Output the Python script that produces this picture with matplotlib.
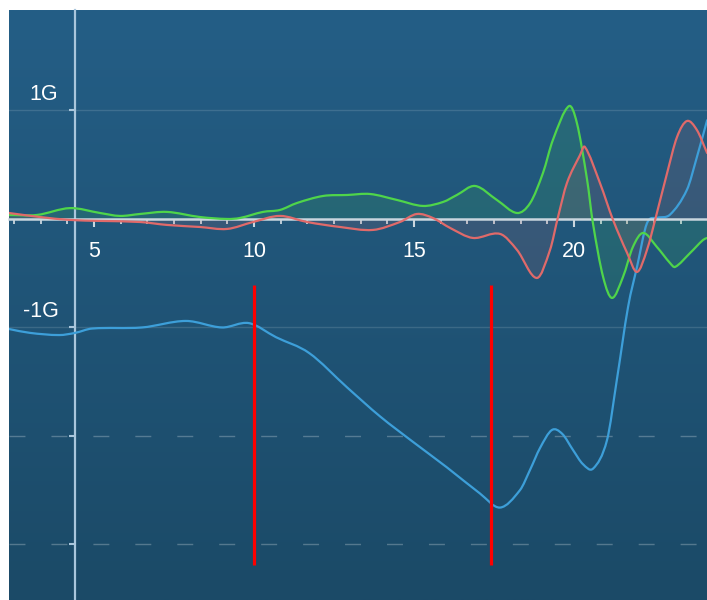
import numpy as np
import matplotlib
matplotlib.use("Agg")
import matplotlib.pyplot as plt
from matplotlib.colors import LinearSegmentedColormap
from matplotlib.path import Path
from matplotlib.patches import PathPatch

plt.rcParams["font.family"] = ["Liberation Sans", "DejaVu Sans"]

# ---- data (x in s, y in G) ----
green_x = [2.34, 3.22, 4.25, 5.19, 5.81, 6.44, 7.28, 8.31, 9.16, 9.56, 10.28, 10.81,
           11.34, 12.16, 12.91, 13.63, 14.47, 15.28, 15.91, 16.34, 16.91, 17.59,
           18.22, 18.63, 19.03, 19.34, 19.84, 20.09, 20.41, 20.59, 20.91, 21.19,
           21.53, 21.84, 22.16, 22.59, 23.0, 23.16, 23.63, 24.03, 24.16]
green_y = [0.037, 0.037, 0.10, 0.055, 0.028, 0.046, 0.065, 0.018, 0.0, 0.009, 0.065,
           0.083, 0.147, 0.212, 0.221, 0.23, 0.175, 0.12, 0.157, 0.221, 0.304, 0.175,
           0.055, 0.147, 0.424, 0.728, 1.04, 0.885, 0.36, -0.037, -0.535, -0.728,
           -0.535, -0.258, -0.129, -0.258, -0.406, -0.442, -0.313, -0.194, -0.175]

red_x = [2.34, 3.31, 4.25, 5.19, 6.44, 7.28, 8.31, 9.16, 9.97, 10.81, 11.66, 12.69,
         13.72, 14.56, 15.09, 15.59, 16.13, 16.84, 17.69, 18.22, 18.84, 19.25, 19.5,
         19.78, 20.19, 20.34, 20.81, 21.22, 21.66, 21.97, 22.28, 22.59, 22.91,
         23.22, 23.53, 23.84, 24.16]
red_y = [0.055, 0.018, -0.009, -0.018, -0.028, -0.055, -0.074, -0.092, -0.028, 0.028,
         -0.028, -0.074, -0.101, -0.028, 0.046, 0.009, -0.083, -0.175, -0.138, -0.286,
         -0.544, -0.286, 0.018, 0.332, 0.59, 0.664, 0.332, -0.009, -0.313, -0.488,
         -0.286, 0.055, 0.424, 0.756, 0.903, 0.82, 0.608]

blue_x = [2.34, 3.0, 3.91, 4.41, 4.94, 6.5, 7.875, 9.0, 9.84, 10.69, 11.72, 12.9,
          13.94, 14.97, 16.03, 17.06, 17.69, 18.31, 18.63, 18.94, 19.31, 19.63, 19.97,
          20.28, 20.6, 21.03, 21.34, 21.69, 21.97, 22.28, 22.6, 23.0, 23.53, 23.84,
          24.16]
blue_y = [-1.014, -1.05, -1.07, -1.05, -1.01, -1.0, -0.94, -1.0, -0.96, -1.09, -1.235,
          -1.55, -1.82, -2.055, -2.29, -2.53, -2.66, -2.5, -2.31, -2.11, -1.945, -1.98,
          -2.13, -2.26, -2.3, -2.04, -1.48, -0.81, -0.44, -0.04, 0.01, 0.04, 0.27, 0.57,
          0.91]

marker_x = [10.0, 17.4]          # red vertical markers
marker_span = (-0.61, -3.19)

x_major = [5, 10, 15, 20]
x_minor = [2.5 + i * 5 / 6 for i in range(26)]
y_ticks = [1, -1, -2, -3]
y_labels = {1: "1G", -1: "-1G"}

XLIM = (2.344, 24.156)
YLIM = (-3.512, 1.926)
Y_AXIS_AT = 4.41


def spline_path(xs, ys, close_to=None):
    """Smooth cubic (Hermite-in-x) Bezier path through the given points."""
    x = np.asarray(xs, float)
    y = np.asarray(ys, float)
    n = len(x)
    m = np.empty(n)
    m[1:-1] = (y[2:] - y[:-2]) / (x[2:] - x[:-2])
    m[0] = (y[1] - y[0]) / (x[1] - x[0])
    m[-1] = (y[-1] - y[-2]) / (x[-1] - x[-2])
    verts, codes = [(x[0], y[0])], [Path.MOVETO]
    for i in range(n - 1):
        d = (x[i + 1] - x[i]) / 3.0
        verts += [(x[i] + d, y[i] + m[i] * d),
                  (x[i + 1] - d, y[i + 1] - m[i + 1] * d),
                  (x[i + 1], y[i + 1])]
        codes += [Path.CURVE4] * 3
    if close_to is not None:
        verts += [(x[-1], close_to), (x[0], close_to), (x[0], y[0])]
        codes += [Path.LINETO, Path.LINETO, Path.CLOSEPOLY]
    return Path(verts, codes)


# ---- figure ----
fig = plt.figure(figsize=(7.07, 6.0), dpi=100, facecolor="white")
ax = fig.add_axes([9 / 707, 0, 698 / 707, 590 / 600])
ax.set_xlim(*XLIM)
ax.set_ylim(*YLIM)

# background gradient
cmap = LinearSegmentedColormap.from_list("bg", ["#1b4a67", "#245e86"])
grad = np.linspace(0, 1, 256).reshape(-1, 1)
ax.imshow(grad, aspect="auto", cmap=cmap, origin="lower",
          extent=[XLIM[0], XLIM[1], YLIM[0], YLIM[1]], zorder=0)

# grid lines
for yv in (1, -1):
    ax.axhline(yv, color="white", alpha=0.13, lw=1, zorder=1)
for yv in (-2, -3):
    ax.axhline(yv, color="white", alpha=0.25, lw=1, dashes=(11.5, 18.7), zorder=1)

# series
GREEN, RED, BLUE = "#4fd54a", "#e06a6a", "#3d9fd9"
for xs, ys, col in ((green_x, green_y, GREEN), (red_x, red_y, RED)):
    ax.add_patch(PathPatch(spline_path(xs, ys, close_to=0), facecolor=col,
                           alpha=0.12, lw=0, zorder=2))
for xs, ys, col, z in ((blue_x, blue_y, BLUE, 3), (green_x, green_y, GREEN, 4),
                       (red_x, red_y, RED, 5)):
    ax.add_patch(PathPatch(spline_path(xs, ys), facecolor="none", edgecolor=col,
                           lw=1.6, zorder=z, capstyle="round", joinstyle="round"))

ax.vlines(marker_x, marker_span[1], marker_span[0], color="#ff0000", lw=2.3, zorder=6)

# axes styling
for s in ("top", "right"):
    ax.spines[s].set_visible(False)
ax.spines["bottom"].set_position(("data", 0))
ax.spines["bottom"].set_color("#c9d6de")
ax.spines["bottom"].set_linewidth(1.8)
ax.spines["left"].set_position(("data", Y_AXIS_AT))
ax.spines["left"].set_color("#a9c6dc")
ax.spines["left"].set_linewidth(1.6)
ax.spines["bottom"].set_zorder(3.5)

ax.set_xticks(x_major)
ax.set_xticks(x_minor, minor=True)
ax.set_xticklabels([str(v) for v in x_major])
ax.tick_params(axis="x", which="major", direction="out", length=6, width=1.5,
               color="#c9d6de", labelcolor="white", labelsize=15.5, pad=10)
ax.tick_params(axis="x", which="minor", direction="out", length=3.5, width=1.3,
               color="#c9d6de")

ax.set_yticks(y_ticks)
ax.set_yticklabels([])
ax.tick_params(axis="y", direction="out", length=4.5, width=1.5, color="#a9c6dc")
for yv, lab in y_labels.items():
    ax.annotate(lab, xy=(Y_AXIS_AT, yv), xytext=(-12, 4), textcoords="offset points",
                ha="right", va="bottom", color="white", fontsize=15.5)

ax.set_xlim(*XLIM)
ax.set_ylim(*YLIM)
fig.savefig("out.png", dpi=100, facecolor="white")
